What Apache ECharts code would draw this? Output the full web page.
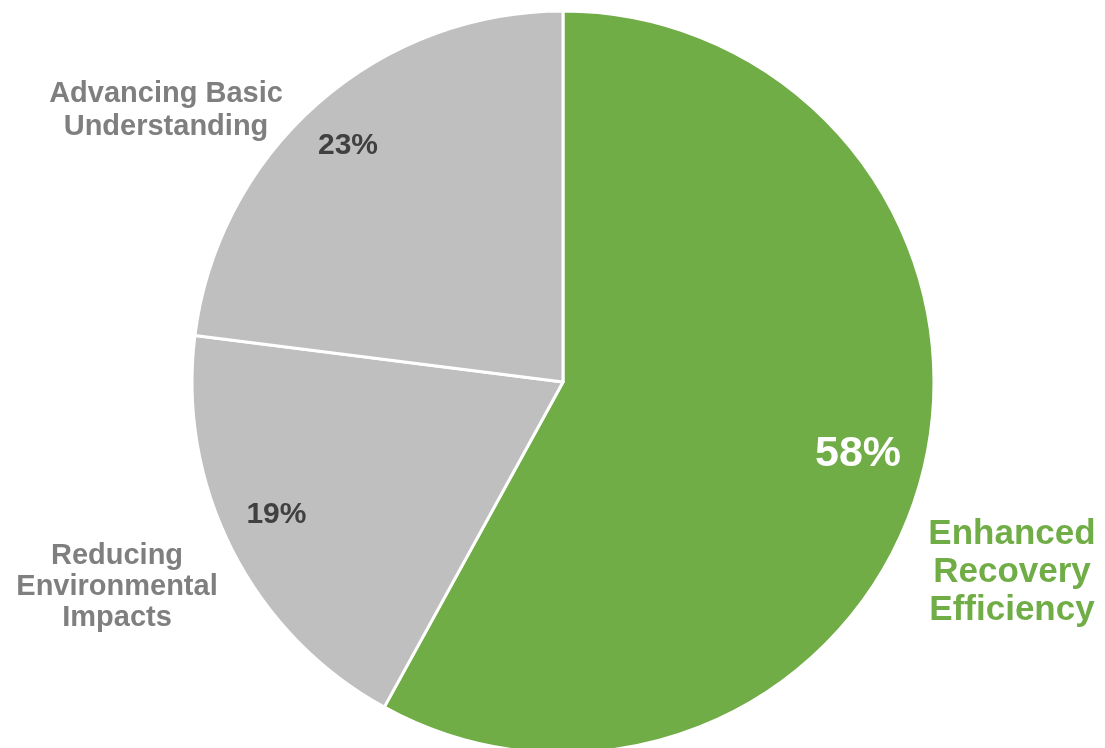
<!DOCTYPE html>
<html>
<head>
<meta charset="utf-8">
<script src="https://cdn.jsdelivr.net/npm/echarts@6/dist/echarts.min.js"></script>
<style>html,body{margin:0;padding:0;background:#fff}#c{width:1105px;height:748px}</style>
</head>
<body>
<div id="c"></div>
<script>
// Data (clockwise from 12 o'clock)
var categories = ['Enhanced\nRecovery\nEfficiency', 'Reducing\nEnvironmental\nImpacts', 'Advancing Basic\nUnderstanding'];
var values = [58, 19, 23];
var colors = ['#70AD47', '#BFBFBF', '#BFBFBF'];

// Styling / layout (not data)
var nameColors = ['#70AD47', '#7F7F7F', '#7F7F7F'];
var nameSizes = [35, 29, 29];
var nameLineHeights = [38, 31, 33];
var nameCenters = [[1012, 572], [117, 587], [166, 110]];
var pctColors = ['#FFFFFF', '#404040', '#404040'];
var pctSizes = [43, 30, 30];
var pctOffsets = [[-11, -6], [-5, -11], [-6, 1]];

var chart = echarts.init(document.getElementById('c'), null, {renderer: 'canvas'});
var center = [563, 382];
var R = 371;

var mainData = categories.map(function (c, i) {
  return {
    name: c, value: values[i],
    itemStyle: {color: colors[i]},
    label: {color: nameColors[i], fontSize: nameSizes[i], lineHeight: nameLineHeights[i]}
  };
});
var pctData = categories.map(function (c, i) {
  return {
    name: c, value: values[i],
    label: {color: pctColors[i], fontSize: pctSizes[i]}
  };
});

chart.setOption({
  animation: false,
  backgroundColor: '#fff',
  series: [
    {
      type: 'pie',
      center: center,
      radius: [0, R],
      startAngle: 90,
      clockwise: true,
      silent: true,
      itemStyle: {borderColor: '#fff', borderWidth: 3},
      label: {
        show: true,
        position: 'outside',
        formatter: '{b}',
        fontFamily: 'Liberation Sans, Arial, sans-serif',
        fontWeight: 'bold',
        align: 'center',
        overflow: 'none',
        width: 400,
        edgeDistance: 0
      },
      labelLine: {show: false},
      labelLayout: function (p) {
        var c = nameCenters[p.dataIndex];
        return {x: c[0], y: c[1], align: 'center', verticalAlign: 'middle'};
      },
      data: mainData
    },
    {
      type: 'pie',
      center: center,
      radius: [255, R],
      startAngle: 90,
      clockwise: true,
      silent: true,
      itemStyle: {color: 'rgba(0,0,0,0)'},
      label: {
        show: true,
        position: 'inside',
        formatter: '{c}%',
        fontFamily: 'Liberation Sans, Arial, sans-serif',
        fontWeight: 'bold'
      },
      labelLine: {show: false},
      labelLayout: function (p) {
        var o = pctOffsets[p.dataIndex];
        return {dx: o[0], dy: o[1]};
      },
      data: pctData
    }
  ]
});
</script>
</body>
</html>
